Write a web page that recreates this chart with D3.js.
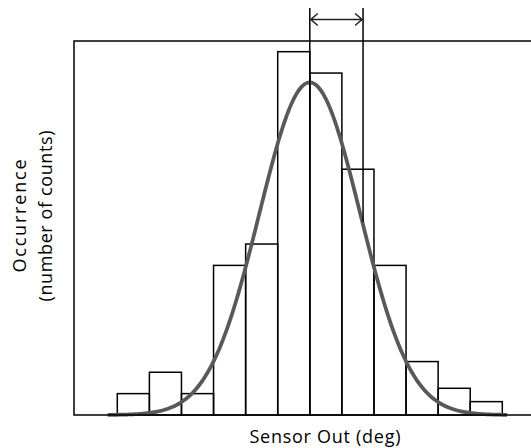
<!DOCTYPE html>
<html>
<head>
<meta charset="utf-8">
<script src="https://cdn.jsdelivr.net/npm/d3@7"></script>
<style>
  html, body { margin: 0; padding: 0; background: #fff; }
  text { font-family: "Open Sans", "DejaVu Sans", sans-serif; fill: #000; }
</style>
</head>
<body>
<div id="chart"></div>
<script>
// Histogram bins (sensor output, deg, relative to mean) and counts
const binEdges = [-6, -5, -4, -3, -2, -1, 0, 1, 2, 3, 4, 5, 6];
const counts = [8, 16, 8, 56, 64, 136, 128, 92, 56, 20, 10, 5];

// Normal fit drawn over the histogram
const fitMean = 0;
const fitSigma = 1.57;
const fitPeak = 124.5;
const fitRange = [-6.3, 6.15];

// Width marker above the chart (mean .. mean + spread)
const markerX = [0, 1.66];

const xLabel = 'Sensor Out (deg)';
const yLabel = ['Occurrence', '(number of counts)'];

const width = 531, height = 448;
const frame = { left: 74, top: 41, bottom: 415, right: 531 };

const svg = d3.select('#chart')
  .append('svg')
  .attr('width', width)
  .attr('height', height);

const x = d3.scaleLinear()
  .domain([-6, 6])
  .range([117.3, 502.3]);

const y = d3.scaleLinear()
  .domain([0, 140])
  .range([frame.bottom, frame.top]);

// Bars
svg.append('g')
  .selectAll('rect')
  .data(counts)
  .join('rect')
  .attr('x', (d, i) => x(binEdges[i]))
  .attr('y', d => y(d))
  .attr('width', (d, i) => x(binEdges[i + 1]) - x(binEdges[i]))
  .attr('height', d => y(0) - y(d))
  .attr('fill', 'none')
  .attr('stroke', '#000')
  .attr('stroke-width', 1.5);

// Fitted curve
const xs = d3.range(fitRange[0], fitRange[1] + 0.001, 0.05);
const line = d3.line()
  .x(d => x(d))
  .y(d => y(fitPeak * Math.exp(-((d - fitMean) ** 2) / (2 * fitSigma ** 2))))
  .curve(d3.curveBasis);

svg.append('path')
  .datum(xs)
  .attr('d', line)
  .attr('fill', 'none')
  .attr('stroke', '#595959')
  .attr('stroke-width', 3.75)
  .attr('stroke-linecap', 'butt');

// Frame: left, top, bottom (open on the right)
svg.append('path')
  .attr('d', `M${frame.right},${frame.top}H${frame.left}V${frame.bottom}H${frame.right}`)
  .attr('fill', 'none')
  .attr('stroke', '#000')
  .attr('stroke-width', 1.5);

// Marker lines and double arrow
const arrowY = 19.5;
svg.append('line')
  .attr('x1', x(markerX[0])).attr('x2', x(markerX[0]))
  .attr('y1', 8).attr('y2', frame.bottom)
  .attr('stroke', '#000').attr('stroke-width', 1.5);

svg.append('line')
  .attr('x1', x(markerX[1])).attr('x2', x(markerX[1]))
  .attr('y1', 8).attr('y2', 222)
  .attr('stroke', '#000').attr('stroke-width', 1.5);

const ax0 = x(markerX[0]) + 1, ax1 = x(markerX[1]) - 1;
svg.append('path')
  .attr('d', `M${ax0},${arrowY}H${ax1}` +
    `M${ax0 + 7},${arrowY - 6}L${ax0},${arrowY}L${ax0 + 7},${arrowY + 6}` +
    `M${ax1 - 7},${arrowY - 6}L${ax1},${arrowY}L${ax1 - 7},${arrowY + 6}`)
  .attr('fill', 'none')
  .attr('stroke', '#222')
  .attr('stroke-width', 1.5);

// Axis labels
svg.append('text')
  .attr('x', 325)
  .attr('y', 443)
  .attr('text-anchor', 'middle')
  .attr('font-size', 18)
  .attr('textLength', 151)
  .attr('lengthAdjust', 'spacing')
  .text(xLabel);

const yLens = [113, 171];
const yl = svg.append('text')
  .attr('transform', 'translate(0,216) rotate(-90)')
  .attr('text-anchor', 'middle')
  .attr('font-size', 18);
yLabel.forEach((t, i) => {
  yl.append('tspan')
    .attr('x', 0)
    .attr('y', 26 + i * 26)
    .attr('textLength', yLens[i])
    .attr('lengthAdjust', 'spacing')
    .text(t);
});
</script>
</body>
</html>
